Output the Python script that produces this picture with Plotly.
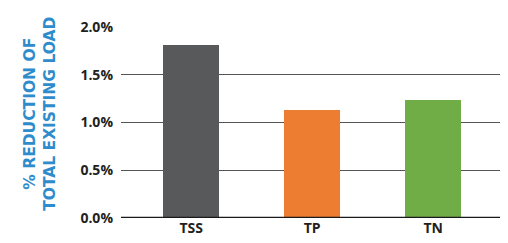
import plotly.graph_objects as go

categories = ["TSS", "TP", "TN"]
values = [1.81, 1.13, 1.24]
colors = ["#58595b", "#ed7d31", "#70ad47"]
y_ticks = [0, 0.5, 1.0, 1.5, 2.0]
y_tick_labels = ["0.0%", "0.5%", "1.0%", "1.5%", "2.0%"]

fig = go.Figure()
fig.add_trace(go.Bar(x=categories, y=values, marker=dict(color=colors, line=dict(width=0)),
                     width=0.46))

fig.update_layout(
    width=508, height=243,
    margin=dict(l=113, r=9, t=16, b=33),
    paper_bgcolor="white", plot_bgcolor="white",
    showlegend=False,
    font=dict(family="Open Sans", size=14, color="#231f20"),
    xaxis=dict(range=[-0.58, 2.61], showgrid=False, showline=False, zeroline=False,
               ticks="", tickfont=dict(family="Open Sans", size=14, color="#231f20", weight="bold")),
    yaxis=dict(range=[0, 2.0], tickvals=y_ticks, ticktext=y_tick_labels,
               showgrid=True, gridcolor="#555555", gridwidth=1, zeroline=False, showline=False,
               ticks="", ticklabelstandoff=7,
               tickfont=dict(family="Open Sans", size=14, color="#231f20", weight="bold")),
    bargap=0,
)
fig.add_shape(type="line", xref="paper", yref="y", x0=0, x1=1, y0=0, y1=0,
              line=dict(color="#1a1a1a", width=2.5))
fig.add_annotation(text="% REDUCTION OF<br>TOTAL EXISTING LOAD", xref="paper", yref="paper",
                   x=-0.21, y=0.545, xanchor="center", yanchor="middle", textangle=-90,
                   showarrow=False, align="center",
                   font=dict(family="DejaVu Sans", size=15.5, color="#2f8ccc", weight="bold"))

fig.write_html("out.html")
